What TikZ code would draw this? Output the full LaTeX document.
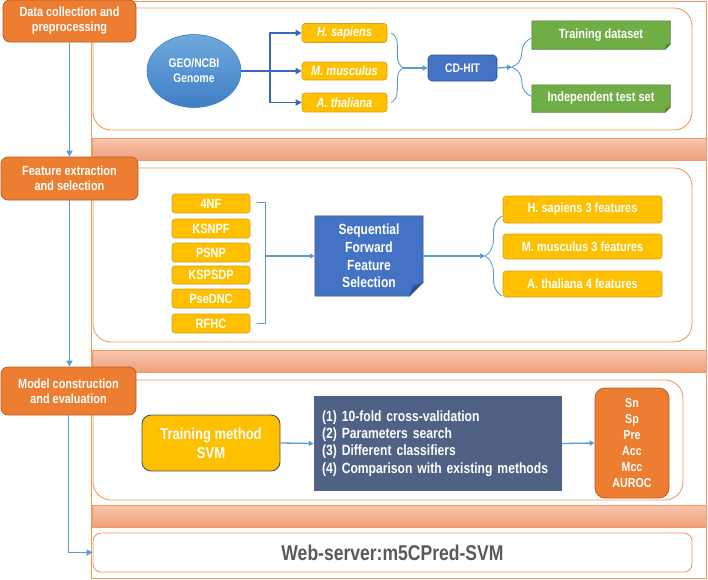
\documentclass[tikz,border=0pt]{standalone}
\usepackage{fontspec}
\setmainfont{Liberation Sans}[FakeStretch=0.82]
\usetikzlibrary{calc,decorations.pathreplacing,shapes.geometric,arrows.meta,backgrounds}

\definecolor{oF}{HTML}{ED7D31}
\definecolor{oD}{HTML}{B9602A}
\definecolor{oL}{HTML}{EE9A63}
\definecolor{bandT}{HTML}{F8C6AE}
\definecolor{bandB}{HTML}{F0A07B}
\definecolor{yF}{HTML}{FFC000}
\definecolor{yD}{HTML}{D4A017}
\definecolor{bF}{HTML}{4472C4}
\definecolor{bD}{HTML}{2F528F}
\definecolor{gF}{HTML}{70AD47}
\definecolor{gD}{HTML}{507E32}
\definecolor{slate}{HTML}{4F6185}
\definecolor{slateD}{HTML}{44546A}
\definecolor{arB}{HTML}{5B9BD5}
\definecolor{arD}{HTML}{3868BE}
\definecolor{txG}{HTML}{595959}
\definecolor{elT}{HTML}{6FA8DD}
\definecolor{elB}{HTML}{3F7FC4}

\begin{document}
\begin{tikzpicture}[x=1pt,y=-1pt,
  secbox/.style={rectangle, rounded corners=7pt, fill=oF, draw=oD, line width=0.8pt, text=white, align=center, font=\fontsize{13.3}{15}\selectfont\bfseries, inner sep=0pt},
  panel/.style={draw=oL, line width=0.9pt, rounded corners=18pt},
  band/.style={draw=oL, line width=0.9pt, top color=bandT, bottom color=bandB},
  ybox/.style={rectangle, rounded corners=3pt, fill=yF, draw=yD, line width=0.6pt, text=white, font=\fontsize{13.4}{15}\selectfont\bfseries, inner sep=0pt},
  shape box/.style={rectangle, inner sep=0pt, text=white, align=center},
  varrow/.style={draw=arB, line width=1.8pt, -{Triangle[length=6pt,width=6pt]}},
  thickar/.style={draw=arD, line width=1.8pt},
  thickarr/.style={thickar, -{Triangle[length=6pt,width=6pt]}},
  ar/.style={draw=arB, line width=1.3pt, -{Triangle[length=5pt,width=5pt]}},
  brc/.style={draw=arB, line width=0.9pt, decorate},
]
\useasboundingbox (0,0) rectangle (708,579);

% outer frame
\draw[draw=oL, line width=0.9pt] (91,1) rectangle (706,578);

% panels and bands
\draw[panel] (93,8) rectangle (692,130);
\draw[band] (92,138) rectangle (706,160);
\draw[panel] (93,168) rectangle (692,342);
\draw[band] (92,350) rectangle (706,372);
\draw[panel] (93,380) rectangle (683,500);
\draw[band] (92,505) rectangle (706,527);

% web server
\node[rectangle, rounded corners=8pt, draw=oL, line width=0.9pt, minimum width=599pt, minimum height=39pt, text=txG, font=\fontsize{21.4}{24}\selectfont\bfseries] (web) at (392.5,552.5) {Web-server:m5CPred-SVM};

% section headers
\node[secbox, minimum width=133pt, minimum height=42pt] (s1) at (69.5,21) {Data collection and\\preprocessing};
\node[secbox, minimum width=137pt, minimum height=43pt] (s2) at (69.5,178.5) {Feature extraction\\and selection};
\node[secbox, minimum width=135pt, minimum height=48pt] (s3) at (68.5,391) {Model construction\\and evaluation};

\draw[varrow] (s1.south) -- (s2.north);
\draw[varrow] (s2.south) -- (s2.south |- s3.north);
\draw[varrow] (s3.south) |- (web.west);

% ---------- panel 1 ----------
\node[ellipse, minimum width=94pt, minimum height=73pt, top color=elT, bottom color=elB, draw=elB, line width=0.6pt, text=white, align=center, font=\fontsize{12.5}{15}\selectfont\bfseries, inner sep=0pt] (geo) at (194,71) {GEO/NCBI\\Genome};

\node[ybox, minimum width=85pt, minimum height=19pt, font=\fontsize{13.4}{15}\selectfont\bfseries\itshape] (hs) at (344.5,33) {H. sapiens};
\node[ybox, minimum width=85pt, minimum height=18pt, font=\fontsize{13.4}{15}\selectfont\bfseries\itshape] (mm) at (344.5,71) {M. musculus};
\node[ybox, minimum width=85pt, minimum height=19pt, font=\fontsize{13.4}{15}\selectfont\bfseries\itshape] (at) at (344.5,102.5) {A. thaliana};

\coordinate (j1) at (270,71);
\draw[thickar] (geo.east) -- (j1);
\draw[thickarr] (j1) |- (hs.west);
\draw[thickarr] (j1) -- (mm.west);
\draw[thickarr] (j1) |- (at.west);

\draw[brc, decoration={brace, amplitude=12pt}] ($(hs.east)+(4,0)$) -- ($(at.east)+(4,0)$);
\coordinate (t1) at (403,68);

\node[rectangle, rounded corners=4pt, fill=bF, draw=bD, line width=0.6pt, minimum width=69pt, minimum height=26pt, text=white, font=\fontsize{12.5}{14}\selectfont\bfseries, inner sep=0pt] (cd) at (462.5,68) {CD-HIT};
\draw[ar] (t1) -- (cd.west);

\node[shape box, minimum width=138pt, minimum height=28pt, font=\fontsize{13.4}{15}\selectfont\bfseries] (tr) at (601,35) {Training dataset};
\node[shape box, minimum width=138pt, minimum height=27pt, font=\fontsize{13.4}{15}\selectfont\bfseries] (te) at (601,98.5) {Independent test set};
\begin{scope}[on background layer]
\foreach \n in {tr,te}{
  \filldraw[fill=gF, draw=gD, line width=0.6pt] (\n.north west) -- (\n.north east) -- ($(\n.south east)+(0,-5)$) -- ($(\n.south east)+(-5,0)$) -- (\n.south west) -- cycle;
  \filldraw[fill=gD, draw=gD, line width=0.4pt] ($(\n.south east)+(0,-5)$) -- ($(\n.south east)+(-5,0)$) -- ($(\n.south east)+(-4,-4)$) -- cycle;
}
\end{scope}

\coordinate (t2) at (512,67);
\draw[ar] (cd.east) -- (t2);
\draw[brc, decoration={brace, amplitude=20pt}] ($(te.west)+(0,-2)$) -- ($(tr.west)+(0,3)$);

% ---------- panel 2 ----------
\node[ybox, minimum width=78pt, minimum height=19pt] (f1) at (211,203.5) {4NF};
\node[ybox, minimum width=78pt, minimum height=19pt] (f2) at (211,228.5) {KSNPF};
\node[ybox, minimum width=78pt, minimum height=19pt] (f3) at (211,252.5) {PSNP};
\node[ybox, minimum width=78pt, minimum height=18pt] (f4) at (211,275) {KSPSDP};
\node[ybox, minimum width=78pt, minimum height=19pt] (f5) at (211,298.5) {PseDNC};
\node[ybox, minimum width=78pt, minimum height=19pt] (f6) at (211,323.5) {RFHC};

\draw[draw=arB, line width=0.9pt] ($(f1.east)+(7,-1)$) -- ++(8,0) |- ($(f6.east)+(7,0)$);

\node[shape box, minimum width=108pt, minimum height=80pt, font=\fontsize{14.7}{17.7}\selectfont\bfseries] (sfs) at (369,256) {Sequential\\Forward\\Feature\\Selection};
\begin{scope}[on background layer]
  \filldraw[fill=bF, draw=bD, line width=0.5pt] (sfs.north west) -- (sfs.north east) -- ($(sfs.south east)+(0,-14)$) -- ($(sfs.south east)+(-14,0)$) -- (sfs.south west) -- cycle;
  \filldraw[fill=bD, draw=bD, line width=0.4pt] ($(sfs.south east)+(0,-14)$) -- ($(sfs.south east)+(-14,0)$) -- ($(sfs.south east)+(-10,-10)$) -- cycle;
\end{scope}

\coordinate (k) at (265,256);
\draw[ar] (k) -- (sfs.west);

\node[ybox, minimum width=159pt, minimum height=27pt] (r1) at (582.5,209.5) {H. sapiens 3 features};
\node[ybox, minimum width=159pt, minimum height=25pt] (r2) at (582.5,246.5) {M. musculus 3 features};
\node[ybox, minimum width=159pt, minimum height=26pt] (r3) at (582.5,284) {A. thaliana 4 features};

\coordinate (t3) at (485,256);
\draw[ar] (sfs.east) -- (t3);
\draw[brc, decoration={brace, amplitude=17pt}] (502,296) -- (502,216);

% ---------- panel 3 ----------
\node[rectangle, rounded corners=9pt, fill=yF, draw=slateD, line width=0.9pt, minimum width=138pt, minimum height=56pt, text=white, align=center, font=\fontsize{15.9}{19}\selectfont\bfseries, inner sep=0pt] (svm) at (211,443) {Training method\\SVM};

\node[rectangle, fill=slate, minimum width=248pt, minimum height=95pt, text width=232pt, align=left, text=white, font=\fontsize{14.8}{17.3}\selectfont\bfseries, inner sep=0pt] (sl) at (438,443.5) {(1) 10-fold cross-validation\\(2) Parameters search\\(3) Different classifiers\\(4) Comparison with existing methods};

\node[rectangle, rounded corners=10pt, fill=oF, draw=oD, line width=0.8pt, minimum width=74pt, minimum height=110pt, text=white, align=center, font=\fontsize{13}{16}\selectfont\bfseries, inner sep=0pt] (met) at (632,443) {Sn\\Sp\\Pre\\Acc\\Mcc\\AUROC};

\draw[ar] (svm.east) -- (sl.west);
\draw[ar] (sl.east) -- (met.west);
\end{tikzpicture}
\end{document}
